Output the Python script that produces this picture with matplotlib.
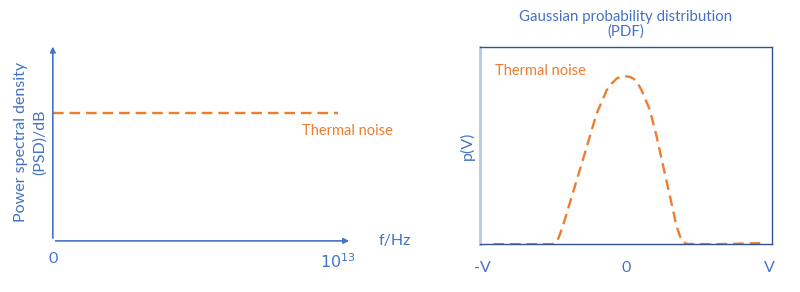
import matplotlib.pyplot as plt

plt.rcParams['font.family'] = ['Lato', 'DejaVu Sans']

BLUE = "#4472C4"
DARK = "#2F5597"
ORANGE = "#ED7D31"

# left panel: flat thermal noise PSD
freq = [0, 1e13]
psd = [0.65, 0.65]
psd_ticks = [0, 1e13]
psd_ticklabels = ["0", "$10^{13}$"]

# right panel: gaussian-like PDF of thermal noise
volt = [-0.926, -0.74, -0.519, -0.495, -0.472, -0.444, -0.414, -0.344, -0.274,
        -0.205, -0.135, -0.095, -0.065, -0.042, -0.007, 0.028, 0.051, 0.08,
        0.109, 0.167, 0.214, 0.26, 0.307, 0.353, 0.38, 0.4, 0.43, 0.47, 0.656, 0.958]
pdf = [0.0, 0.0, 0.0, 0.005, 0.03, 0.085, 0.157, 0.325, 0.494,
       0.663, 0.781, 0.818, 0.84, 0.848, 0.852, 0.848, 0.84, 0.818,
       0.781, 0.68, 0.546, 0.395, 0.243, 0.091, 0.035, 0.008, 0.001, 0.0, 0.0, 0.005]
v_ticks = [-1, 0, 1]
v_ticklabels = ["-V", "0", "V"]

fig = plt.figure(figsize=(8, 2.92), dpi=100)
dash = (0, (4.5, 2.5))

ax1 = fig.add_axes([0.066, 0.175, 0.374, 0.675])
ax1.plot(freq, psd, color=ORANGE, lw=1.7, ls=dash)
ax1.set_xlim(0, 1.05e13)
ax1.set_ylim(0, 1)
for s in ax1.spines.values():
    s.set_visible(False)
ax1.annotate("", xy=(1, 0), xytext=(0, 0), xycoords="axes fraction",
             arrowprops=dict(arrowstyle="-|>", color=BLUE, lw=1.2, mutation_scale=8))
ax1.annotate("", xy=(0, 1), xytext=(0, 0), xycoords="axes fraction",
             arrowprops=dict(arrowstyle="-|>", color=BLUE, lw=1.2, mutation_scale=8))
ax1.set_xticks(psd_ticks)
ax1.set_xticklabels(psd_ticklabels)
ax1.set_yticks([])
ax1.tick_params(axis="x", length=0, pad=8, labelsize=11.5, labelcolor=BLUE)
ax1.text(0.873e13, 0.56, "Thermal noise", color=ORANGE, fontsize=10.5, va="center")
ax1.text(1.09, 0.0, "f/Hz", transform=ax1.transAxes, color=BLUE, fontsize=11.5,
         va="center", ha="left")
ax1.set_ylabel("Power spectral density\n(PSD)/dB", color=BLUE, fontsize=11.5,
               linespacing=1.45, labelpad=4)

ax2 = fig.add_axes([0.6, 0.164, 0.365, 0.675])
ax2.plot(volt, pdf, color=ORANGE, lw=1.7, ls=dash)
ax2.set_xlim(-1.02, 1.02)
ax2.set_ylim(0, 1)
for name in ["top", "right", "bottom"]:
    ax2.spines[name].set_color(DARK)
    ax2.spines[name].set_linewidth(1)
ax2.spines["left"].set_color("#B4C7E7")
ax2.spines["left"].set_linewidth(2)
ax2.set_xticks(v_ticks)
ax2.set_xticklabels(v_ticklabels)
ax2.set_yticks([])
ax2.tick_params(axis="x", length=0, pad=12, labelsize=11.5, labelcolor=BLUE)
ax2.text(0.05, 0.88, "Thermal noise", transform=ax2.transAxes, color=ORANGE,
         fontsize=10.5, va="center")
ax2.set_ylabel("p(V)", color=BLUE, fontsize=11.5, labelpad=4)
ax2.set_title("Gaussian probability distribution\n(PDF)", color=BLUE, fontsize=10.8,
              linespacing=1.05, pad=8)

fig.savefig("out.png")
